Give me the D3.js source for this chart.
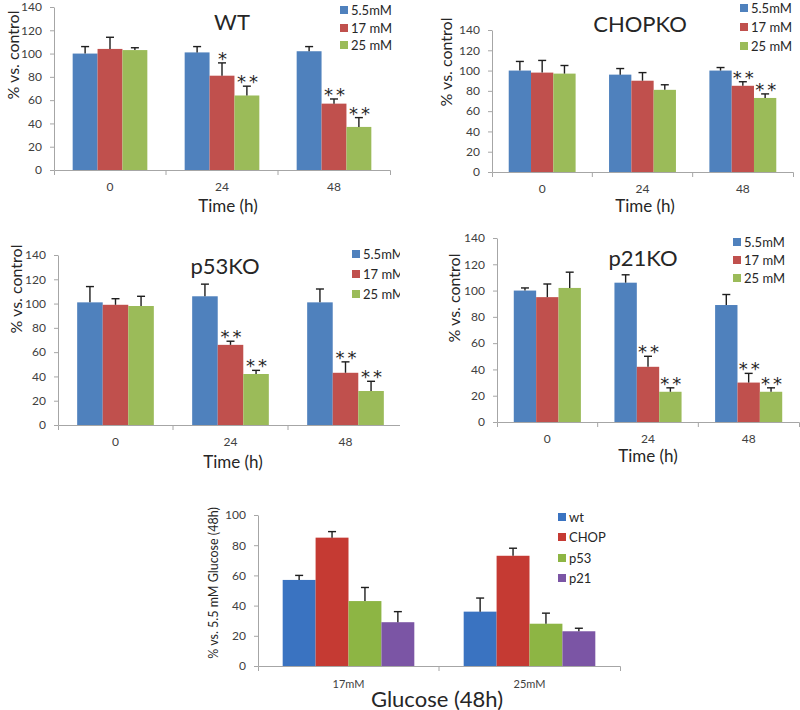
<!DOCTYPE html>
<html>
<head>
<meta charset="utf-8">
<script src="https://cdn.jsdelivr.net/npm/d3@7"></script>
<style>
  body { margin: 0; background: #fff; }
  svg { font-family: Lato, 'Open Sans', sans-serif; }
  .axis path, .axis line { stroke: #a6a6a6; }
  .axis text { fill: #404040; font-size: 12px; font-family: Lato, sans-serif; }
  .lbl { fill: #262626; }
</style>
</head>
<body>
<svg id="chart" width="800" height="710"></svg>
<script>
// time points and glucose conditions
const timeLabels = ['0', '24', '48'];
const glucoseLevels = ['5.5mM', '17 mM', '25 mM'];
const glucoseColors = ['#4f81bd', '#c0504d', '#9bbb59'];

// % vs control, rows = time point, cols = glucose level
const wtMean = [[100, 104, 103], [101, 81, 64], [102, 57, 37]];
const wtErr = [[6, 10, 2], [5, 11, 8], [4, 4, 8]];
const wtStars = [['', '', ''], ['', '*', '**'], ['', '**', '**']];

const chopMean = [[100, 98, 97], [96, 90, 81], [100, 85, 73]];
const chopErr = [[9, 12, 8], [6, 8, 5], [3, 4, 4]];
const chopStars = [['', '', ''], ['', '', ''], ['', '**', '**']];

const p53Mean = [[101, 99, 98], [106, 66, 42], [101, 43, 28]];
const p53Err = [[13, 5, 8], [10, 3, 3], [11, 9, 8]];
const p53Stars = [['', '', ''], ['', '**', '**'], ['', '**', '**']];

const p21Mean = [[100, 95, 102], [106, 42, 23], [89, 30, 23]];
const p21Err = [[2, 10, 12], [6, 8, 3], [8, 7, 3]];
const p21Stars = [['', '', ''], ['', '**', '**'], ['', '**', '**']];

// summary at 48h
const summaryGroups = ['17mM', '25mM'];
const summarySeries = ['wt', 'CHOP', 'p53', 'p21'];
const summaryColors = ['#3a73c1', '#c53a33', '#8db544', '#7b55a5'];
const summaryMean = [[57, 85, 43, 29], [36, 73, 28, 23]];
const summaryErr = [[3, 4, 9, 7], [9, 5, 7, 2]];

const svg = d3.select('#chart');

function drawPanel(opt) {
  let g = svg.append('g');
  if (opt.clipRight) {
    const id = 'clip' + Math.round(opt.left);
    svg.append('clipPath').attr('id', id)
      .append('rect').attr('x', 0).attr('y', 0).attr('width', opt.clipRight).attr('height', 710);
    g.attr('clip-path', `url(#${id})`);
  }

  const x = d3.scaleBand().domain(opt.groups).range([opt.left, opt.right]);
  const inner = d3.scaleBand()
    .domain(d3.range(opt.series.length))
    .range([0, x.bandwidth()])
    .paddingInner(0)
    .paddingOuter(0.75);
  const y = d3.scaleLinear().domain([0, opt.max]).range([opt.bottom, opt.top]);

  // y axis
  g.append('g')
    .attr('class', 'axis')
    .attr('transform', `translate(${opt.left},0)`)
    .call(d3.axisLeft(y).tickValues(d3.range(0, opt.max + 1, 20)).tickSize(4).tickPadding(8).tickSizeOuter(0));

  // x axis, ticks sit between the groups
  const xa = g.append('g')
    .attr('class', 'axis')
    .attr('transform', `translate(0,${opt.bottom})`)
    .call(d3.axisBottom(x).tickSizeInner(0).tickSizeOuter(5).tickPadding(opt.xPad || 12));
  xa.selectAll('.tick text').style('font-size', (opt.xFont || 12) + 'px');
  xa.selectAll('.sep')
    .data(opt.groups.slice(1))
    .join('line')
    .attr('class', 'sep')
    .attr('x1', (d) => x(d)).attr('x2', (d) => x(d))
    .attr('y1', 0).attr('y2', 5);

  const rows = opt.groups.map((grp, i) => opt.series.map((s, j) => ({
    grp, j, v: opt.mean[i][j], e: opt.err[i][j], star: opt.stars ? opt.stars[i][j] : ''
  }))).flat();

  const bx = (d) => x(d.grp) + inner(d.j);

  g.append('g').selectAll('rect')
    .data(rows)
    .join('rect')
    .attr('x', bx)
    .attr('y', (d) => y(d.v))
    .attr('width', inner.bandwidth())
    .attr('height', (d) => y(0) - y(d.v))
    .attr('fill', (d) => opt.colors[d.j]);

  // error bars (upper only)
  const eb = g.append('g').attr('stroke', '#1e1e1e').attr('stroke-width', 1.4);
  eb.selectAll('.stem')
    .data(rows)
    .join('line')
    .attr('x1', (d) => bx(d) + inner.bandwidth() / 2)
    .attr('x2', (d) => bx(d) + inner.bandwidth() / 2)
    .attr('y1', (d) => y(d.v))
    .attr('y2', (d) => y(d.v + d.e));
  eb.selectAll('.cap')
    .data(rows)
    .join('line')
    .attr('x1', (d) => bx(d) + inner.bandwidth() / 2 - 4)
    .attr('x2', (d) => bx(d) + inner.bandwidth() / 2 + 4)
    .attr('y1', (d) => y(d.v + d.e))
    .attr('y2', (d) => y(d.v + d.e));

  // significance marks
  g.append('g').selectAll('text')
    .data(rows.filter((d) => d.star))
    .join('text')
    .attr('x', (d) => bx(d) + inner.bandwidth() / 2 + 2)
    .attr('y', (d) => y(d.v + d.e) + 2)
    .attr('text-anchor', 'middle')
    .attr('font-family', "'DejaVu Sans', sans-serif")
    .attr('font-size', 18)
    .attr('letter-spacing', 3)
    .attr('fill', '#262626')
    .text((d) => d.star);

  if (opt.title) {
    g.append('text')
      .attr('class', 'lbl')
      .attr('x', opt.title[1]).attr('y', opt.title[2])
      .attr('text-anchor', 'middle')
      .attr('dominant-baseline', 'central')
      .attr('font-size', 22)
      .text(opt.title[0]);
  }

  // legend
  const lg = g.append('g').selectAll('g')
    .data(opt.series)
    .join('g')
    .attr('transform', (d, i) => `translate(${opt.legend.x},${opt.legend.ys[i]})`);
  lg.append('rect').attr('x', 0).attr('y', -4).attr('width', 8).attr('height', 8)
    .attr('fill', (d, i) => opt.colors[i]);
  lg.append('text').attr('class', 'lbl').attr('x', 11).attr('y', 0)
    .attr('dominant-baseline', 'central').attr('font-size', 13)
    .text((d) => d);

  g.append('text')
    .attr('class', 'lbl')
    .attr('transform', `translate(${opt.yTitle[1]},${opt.yTitle[2]}) rotate(-90)`)
    .attr('text-anchor', 'middle')
    .attr('dominant-baseline', 'central')
    .attr('font-size', opt.yTitle[3])
    .text(opt.yTitle[0]);

  g.append('text')
    .attr('class', 'lbl')
    .attr('x', opt.xTitle[1]).attr('y', opt.xTitle[2])
    .attr('text-anchor', 'middle')
    .attr('dominant-baseline', 'central')
    .attr('font-size', opt.xTitle[3])
    .text(opt.xTitle[0]);
}

drawPanel({
  groups: timeLabels, series: glucoseLevels, colors: glucoseColors,
  mean: wtMean, err: wtErr, stars: wtStars, max: 140,
  left: 54, right: 390, top: 7, bottom: 170,
  title: ['WT', 232, 21],
  legend: { x: 340, ys: [10, 28, 45] },
  yTitle: ['% vs. control', 12, 55, 16],
  xTitle: ['Time (h)', 228, 205, 17]
});

drawPanel({
  groups: timeLabels, series: glucoseLevels, colors: glucoseColors,
  mean: chopMean, err: chopErr, stars: chopStars, max: 140,
  left: 492, right: 793, top: 30, bottom: 172,
  title: ['CHOPKO', 640, 23],
  legend: { x: 740, ys: [8, 27, 46] },
  yTitle: ['% vs. control', 445, 62, 16],
  xTitle: ['Time (h)', 645, 205, 17]
});

drawPanel({
  groups: timeLabels, series: glucoseLevels, colors: glucoseColors,
  mean: p53Mean, err: p53Err, stars: p53Stars, max: 140,
  left: 58, right: 403, top: 255, bottom: 425, clipRight: 400,
  title: ['p53KO', 225, 265],
  legend: { x: 352, ys: [254, 274, 294] },
  yTitle: ['% vs. control', 15, 289, 16],
  xTitle: ['Time (h)', 233, 461, 17]
});

drawPanel({
  groups: timeLabels, series: glucoseLevels, colors: glucoseColors,
  mean: p21Mean, err: p21Err, stars: p21Stars, max: 140,
  left: 497, right: 799, top: 238, bottom: 422,
  title: ['p21KO', 643, 257],
  legend: { x: 733, ys: [242, 260, 278] },
  yTitle: ['% vs. control', 453, 298, 16],
  xTitle: ['Time (h)', 648, 455, 17]
});

drawPanel({
  groups: summaryGroups, series: summarySeries, colors: summaryColors,
  mean: summaryMean, err: summaryErr, max: 100,
  left: 258, right: 620, top: 515, bottom: 666,
  legend: { x: 558, ys: [517, 537, 558, 578] },
  yTitle: ['% vs. 5.5 mM Glucose (48h)', 213, 583, 12.5],
  xTitle: ['Glucose (48h)', 437, 698, 22],
  xFont: 11, xPad: 14
});
</script>
</body>
</html>
